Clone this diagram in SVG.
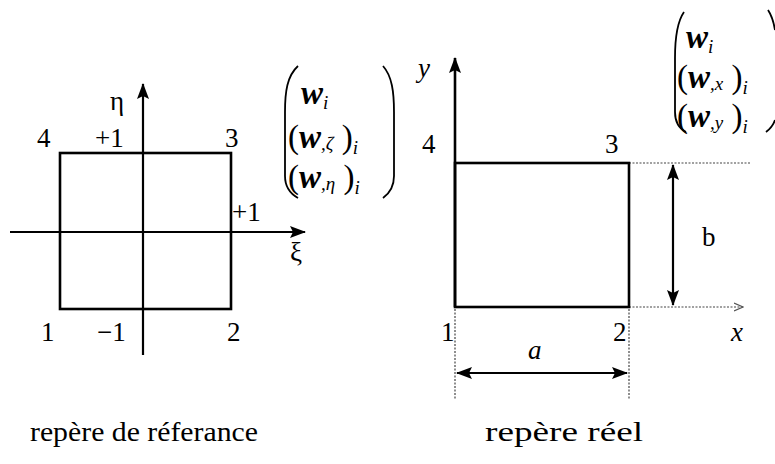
<svg xmlns="http://www.w3.org/2000/svg" width="775" height="464" viewBox="0 0 775 464" font-family="'Liberation Serif', 'DejaVu Serif', serif">
<defs>
<marker id="ahBig" viewBox="0 0 16 12" refX="15" refY="6" markerWidth="16" markerHeight="12" markerUnits="userSpaceOnUse" orient="auto-start-reverse">
<path d="M0,0 L16,6 L0,12 L3,6 Z" fill="#000"/>
</marker>
<marker id="ahOpen" viewBox="0 0 10 10" refX="9" refY="5" markerWidth="10" markerHeight="10" markerUnits="userSpaceOnUse" orient="auto">
<path d="M0,1 L9,5 L0,9" fill="none" stroke="#555" stroke-width="1.2"/>
</marker>
</defs>
<style>
text{font-family:'Liberation Serif','DejaVu Serif',serif}
.t{font-size:27px;fill:#000}
.m{font-size:33px;fill:#000}
.w{font-style:italic;font-weight:bold}
.s{font-style:italic;font-size:19px}
.cap{font-size:28px;fill:#000}
.thick{stroke:#000;stroke-width:2.6;fill:none}
.thin{stroke:#000;stroke-width:2.2;fill:none}
.dot{stroke:#444;stroke-width:1.2;stroke-dasharray:2 1.5;fill:none}
.paren{stroke:#000;stroke-width:1.8;fill:none}
</style>
<rect width="775" height="464" fill="#fff"/>

<g id="reference-frame">
<rect x="60" y="153" width="171" height="156" class="thick"/>
</g>

<g id="connectors">
<line x1="143" y1="355" x2="143" y2="84" class="thin" marker-end="url(#ahBig)"/>
<line x1="10" y1="232" x2="305" y2="232" class="thin" marker-end="url(#ahBig)"/>
<line x1="455" y1="307" x2="455" y2="58" class="thick" marker-end="url(#ahBig)"/>
<line x1="629" y1="163" x2="750" y2="163" class="dot"/>
<line x1="629" y1="307" x2="743" y2="307" class="dot" marker-end="url(#ahOpen)"/>
<line x1="455" y1="309" x2="455" y2="400" class="dot"/>
<line x1="629" y1="309" x2="629" y2="400" class="dot"/>
<line x1="673" y1="165" x2="673" y2="305" class="thin" marker-start="url(#ahBig)" marker-end="url(#ahBig)"/>
<line x1="457" y1="373" x2="627" y2="373" class="thin" marker-start="url(#ahBig)" marker-end="url(#ahBig)"/>
</g>

<g id="reference-labels">
<text class="t" x="110" y="110">η</text>
<text class="t" x="37" y="147">4</text>
<text class="t" x="95" y="147">+1</text>
<text class="t" x="225" y="147">3</text>
<text class="t" x="232" y="221">+1</text>
<text class="t" x="290" y="261">ξ</text>
<text class="t" x="41" y="341">1</text>
<text class="t" x="97" y="341">−1</text>
<text class="t" x="227" y="341">2</text>
</g>

<g id="reference-dofs">
<path d="M298,66 C287,76 285,92 285,112 L285,176 C285,186 289,193 298,198" class="paren"/>
<path d="M383,66 C392,76 394,92 394,112 L394,176 C394,186 390,193 383,198" class="paren"/>
<text class="m" x="301" y="104"><tspan class="w">w</tspan><tspan class="s" dy="5">i</tspan></text>
<text class="m" x="288" y="148">(<tspan class="w">w</tspan><tspan class="s" dy="2">,ζ</tspan><tspan dy="-2"> )</tspan><tspan class="s" dy="6">i</tspan></text>
<text class="m" x="288" y="188">(<tspan class="w">w</tspan><tspan class="s" dy="2">,η</tspan><tspan dy="-2"> )</tspan><tspan class="s" dy="6">i</tspan></text>
</g>

<g id="real-frame">
<rect x="455" y="163" width="174" height="144" class="thick"/>
</g>

<g id="real-labels">
<text class="t" x="418" y="77" font-style="italic">y</text>
<text class="t" x="422" y="153">4</text>
<text class="t" x="605" y="153">3</text>
<text class="t" x="702" y="246">b</text>
<text class="t" x="441" y="341">1</text>
<text class="t" x="613" y="341">2</text>
<text class="t" x="731" y="341" font-style="italic">x</text>
<text class="t" x="528" y="359" font-style="italic">a</text>
</g>

<g id="real-dofs">
<path d="M684,12 C677,22 675,40 675,58 L675,112 C675,122 678,128 686,132" class="paren"/>
<path d="M768,10 C772,16 774,24 775,30" class="paren"/>
<path d="M766,132 C770,129 773,126 775,120" class="paren"/>
<text class="m" x="686" y="48"><tspan class="w">w</tspan><tspan class="s" dy="5">i</tspan></text>
<text class="m" x="677" y="88">(<tspan class="w">w</tspan><tspan class="s" dy="2">,x</tspan><tspan dy="-2"> )</tspan><tspan class="s" dy="6">i</tspan></text>
<text class="m" x="677" y="127">(<tspan class="w">w</tspan><tspan class="s" dy="2">,y</tspan><tspan dy="-2"> )</tspan><tspan class="s" dy="6">i</tspan></text>
</g>

<g id="captions">
<text class="cap" x="30" y="441" textLength="228" lengthAdjust="spacingAndGlyphs">repère de réferance</text>
<text class="cap" x="485" y="441" textLength="158" lengthAdjust="spacingAndGlyphs">repère réel</text>
</g>
</svg>
